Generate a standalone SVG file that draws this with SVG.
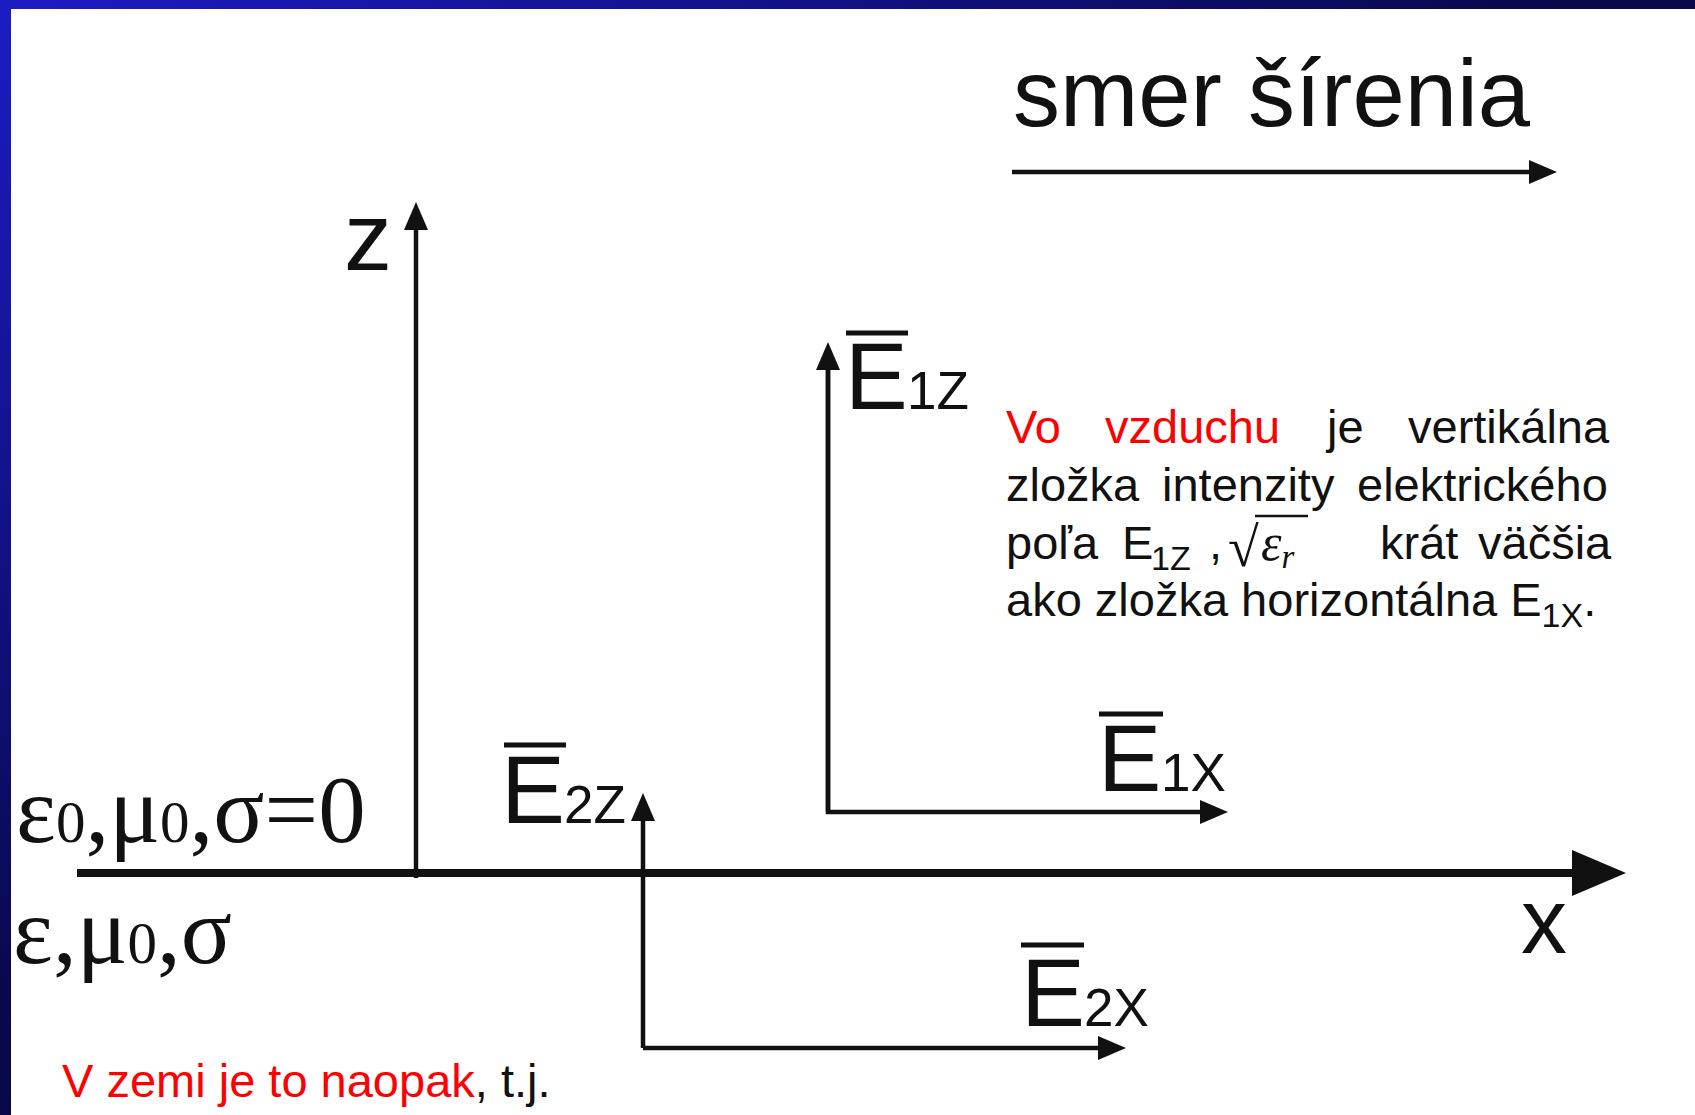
<svg xmlns="http://www.w3.org/2000/svg" width="1695" height="1115" viewBox="0 0 1695 1115">
<style>
.sans{font-family:"Liberation Sans",Arial,sans-serif;fill:#111}
.serif{font-family:"Liberation Serif","Times New Roman",serif;fill:#111}
.red{fill:#ff0000}
.ln{stroke:#111;stroke-width:4.5;fill:none}
.ax{stroke:#111;stroke-width:8;fill:none}
.ovl{stroke:#111;stroke-width:5}
</style>
<defs>
<linearGradient id="bg" x1="0" y1="0" x2="1" y2="1">
<stop offset="0" stop-color="#1c1cc4"/>
<stop offset="0.45" stop-color="#08084e"/>
<stop offset="1" stop-color="#000030"/>
</linearGradient>
<marker id="ah" markerUnits="userSpaceOnUse" markerWidth="30" markerHeight="26" refX="10" refY="12" orient="auto" overflow="visible">
<path d="M0,0 L28,12 L0,24 Z" fill="#111"/>
</marker>
<marker id="ahBig" markerUnits="userSpaceOnUse" markerWidth="56" markerHeight="48" refX="14" refY="23" orient="auto" overflow="visible">
<path d="M0,0 L54,23 L0,46 Z" fill="#111"/>
</marker>
</defs>
<rect x="0" y="0" width="1695" height="1115" fill="url(#bg)"/>
<rect x="11" y="9" width="1684" height="1106" fill="#ffffff"/>

<g id="connectors">
<line id="dir-arrow" class="ln" x1="1012" y1="172" x2="1539" y2="172" marker-end="url(#ah)"/>
<line id="z-axis" class="ln" x1="416" y1="878" x2="416" y2="220" marker-end="url(#ah)"/>
<line id="x-axis" class="ax" x1="77" y1="873" x2="1586" y2="873" marker-end="url(#ahBig)"/>
<polyline id="e1" class="ln" points="828,360 828,812 1210,812" marker-end="url(#ah)" stroke-linejoin="miter"/>
<line id="e1z-dir" class="ln" x1="828" y1="812" x2="828" y2="360" marker-end="url(#ah)"/>
<line id="e2z-dir" class="ln" x1="643" y1="1048" x2="643" y2="811" marker-end="url(#ah)"/>
<polyline id="e2x-dir" class="ln" points="643,1048 1108,1048" marker-end="url(#ah)"/>
</g>

<g id="title">
<text class="sans" x="1013" y="126" font-size="94">smer šírenia</text>
</g>

<g id="label-z">
<text class="sans" x="344" y="270" font-size="96">z</text>
</g>
<g id="label-x">
<text class="sans" x="1521" y="953" font-size="92">x</text>
</g>

<g id="label-E1z">
<line class="ovl" x1="846" y1="333" x2="908" y2="333"/>
<text class="sans" x="845" y="409" font-size="94">E<tspan font-size="53" x="907">1Z</tspan></text>
</g>
<g id="label-E1x">
<line class="ovl" x1="1099" y1="714" x2="1163" y2="714"/>
<text class="sans" x="1098" y="791" font-size="95">E<tspan font-size="53" x="1161">1X</tspan></text>
</g>
<g id="label-E2z">
<line class="ovl" x1="504" y1="745" x2="566" y2="745"/>
<text class="sans" x="501" y="823" font-size="96">E<tspan font-size="53" x="564">2Z</tspan></text>
</g>
<g id="label-E2x">
<line class="ovl" x1="1021" y1="945" x2="1084" y2="945"/>
<text class="sans" x="1021" y="1026" font-size="96">E<tspan font-size="53" x="1084">2X</tspan></text>
</g>

<g id="medium-air">
<text class="serif" x="16" y="842" font-size="95">ε<tspan font-size="59">0</tspan>,μ<tspan font-size="59">0</tspan>,σ=0</text>
</g>
<g id="medium-ground">
<text class="serif" x="13" y="963" font-size="95">ε,μ<tspan font-size="59">0</tspan>,σ</text>
</g>

<g id="paragraph" font-size="47">
<text class="sans" y="443"><tspan class="red" x="1006">Vo</tspan><tspan class="red" x="1105">vzduchu</tspan><tspan x="1327">je</tspan><tspan x="1408">vertikálna</tspan></text>
<text class="sans" y="501"><tspan x="1006">zložka</tspan><tspan x="1162">intenzity</tspan><tspan x="1357">elektrického</tspan></text>
<text class="sans" y="559"><tspan x="1006">poľa</tspan><tspan x="1122">E</tspan><tspan x="1151" dy="11" font-size="34">1Z</tspan><tspan x="1209" dy="-11">,</tspan><tspan x="1380">krát</tspan><tspan x="1478">väčšia</tspan></text>
<text class="serif" x="1228" y="566" font-size="56">√</text>
<line x1="1255" y1="516" x2="1308" y2="516" stroke="#111" stroke-width="2.5"/>
<text class="serif" x="1261" y="560" font-size="52" font-style="italic">ε<tspan font-size="33" dy="8">r</tspan></text>
<text class="sans" x="1006" y="616">ako zložka horizontálna E<tspan font-size="34" dy="11">1X</tspan><tspan dy="-11">.</tspan></text>
</g>

<g id="note-ground">
<text class="sans" x="62" y="1097" font-size="47"><tspan class="red">V zemi je to naopak</tspan>, t.j.</text>
</g>
</svg>
